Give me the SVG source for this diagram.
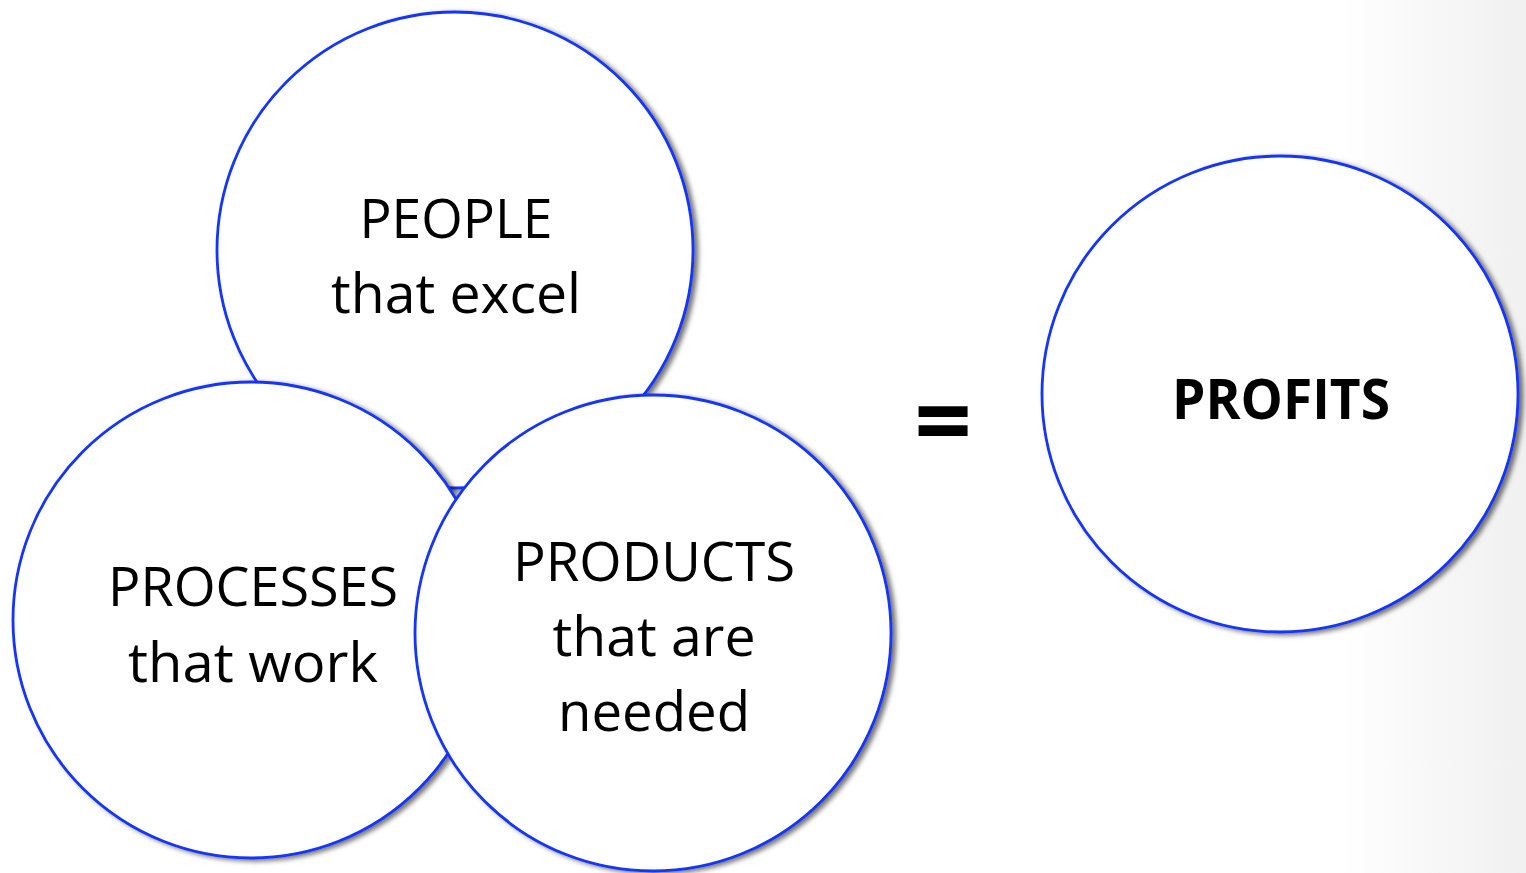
<svg xmlns="http://www.w3.org/2000/svg" width="1526" height="873" viewBox="0 0 1526 873">
  <defs>
    <linearGradient id="bg" x1="1340" y1="0" x2="1526" y2="0" gradientUnits="userSpaceOnUse">
      <stop offset="0" stop-color="#ffffff"/>
      <stop offset="1" stop-color="#f0f0f0"/>
    </linearGradient>
    <filter id="shadow" x="-10%" y="-10%" width="125%" height="125%">
      <feDropShadow dx="4" dy="2" stdDeviation="2.5" flood-color="#000" flood-opacity="0.55"/>
    </filter>
    <style>
      .c { fill: #ffffff; stroke: #1234f8; stroke-width: 2.8; filter: url(#shadow); }
      .t { font-family: "Open Sans", "Noto Sans", sans-serif; font-size: 55px; fill: #000; text-anchor: middle; }
      .b { font-weight: bold; }
      .eq { font-size: 101px; }
    </style>
  </defs>
  <rect x="0" y="0" width="1526" height="873" fill="url(#bg)"/>
  <g id="connectors"></g>
  <g id="people">
    <circle class="c" cx="455" cy="250" r="238"/>
    <text class="t" x="456" y="238" textLength="193" lengthAdjust="spacingAndGlyphs">PEOPLE</text>
    <text class="t" x="456" y="313" textLength="250" lengthAdjust="spacingAndGlyphs">that excel</text>
  </g>
  <g id="processes">
    <circle class="c" cx="251" cy="620" r="238"/>
    <text class="t" x="253" y="606" textLength="290" lengthAdjust="spacingAndGlyphs">PROCESSES</text>
    <text class="t" x="253" y="682" textLength="250" lengthAdjust="spacingAndGlyphs">that work</text>
  </g>
  <g id="products">
    <circle class="c" cx="653" cy="633" r="238"/>
    <text class="t" x="654" y="581" textLength="282" lengthAdjust="spacingAndGlyphs">PRODUCTS</text>
    <text class="t" x="654" y="656" textLength="203" lengthAdjust="spacingAndGlyphs">that are</text>
    <text class="t" x="654" y="731" textLength="192" lengthAdjust="spacingAndGlyphs">needed</text>
  </g>
  <g id="equals">
    <text class="t b eq" x="943" y="457">=</text>
  </g>
  <g id="profits">
    <circle class="c" cx="1280" cy="394" r="238"/>
    <text class="t b" x="1281" y="419" textLength="218" lengthAdjust="spacingAndGlyphs">PROFITS</text>
  </g>
</svg>
